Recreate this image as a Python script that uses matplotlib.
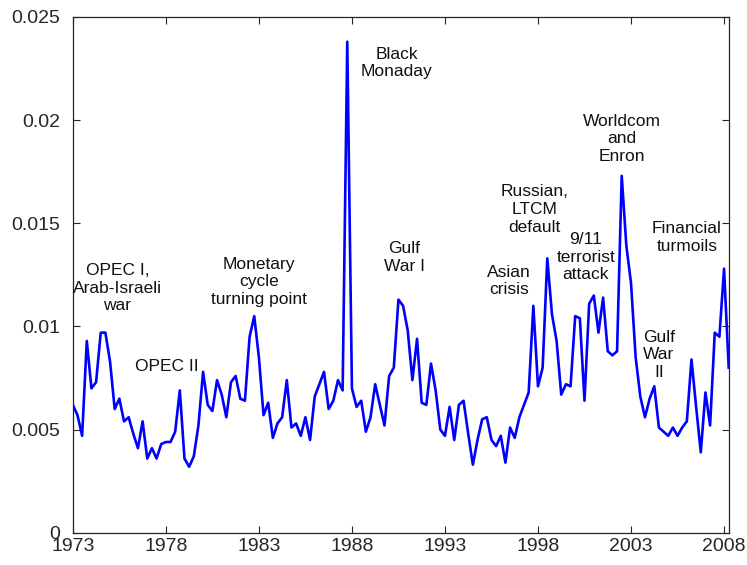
import numpy as np
import matplotlib
matplotlib.use('Agg')
import matplotlib.pyplot as plt

plt.rcParams['font.family'] = ['Liberation Sans', 'DejaVu Sans']

# quarterly volatility, 1973Q1 .. 2008Q2
vol = [0.0062, 0.0057, 0.0047, 0.0093, 0.0070, 0.0073, 0.0097, 0.0097, 0.0083, 0.0060,
       0.0065, 0.0054, 0.0056, 0.0048, 0.0041, 0.0054, 0.0036, 0.0041, 0.0036, 0.0043,
       0.0044, 0.0044, 0.0049, 0.0069, 0.0036, 0.0032, 0.0037, 0.0052, 0.0078, 0.0062,
       0.0059, 0.0074, 0.0067, 0.0056, 0.0073, 0.0076, 0.0065, 0.0064, 0.0095, 0.0105,
       0.0085, 0.0057, 0.0063, 0.0046, 0.0053, 0.0056, 0.0074, 0.0051, 0.0053, 0.0047,
       0.0056, 0.0045, 0.0066, 0.0072, 0.0078, 0.0060, 0.0064, 0.0074, 0.0069, 0.0238,
       0.0070, 0.0061, 0.0064, 0.0049, 0.0056, 0.0072, 0.0062, 0.0052, 0.0076, 0.0080,
       0.0113, 0.0110, 0.0098, 0.0074, 0.0094, 0.0063, 0.0062, 0.0082, 0.0069, 0.0050,
       0.0047, 0.0061, 0.0045, 0.0062, 0.0064, 0.0048, 0.0033, 0.0045, 0.0055, 0.0056,
       0.0045, 0.0042, 0.0047, 0.0034, 0.0051, 0.0046, 0.0056, 0.0062, 0.0068, 0.0110,
       0.0071, 0.0080, 0.0133, 0.0106, 0.0093, 0.0067, 0.0072, 0.0071, 0.0105, 0.0104,
       0.0064, 0.0111, 0.0115, 0.0097, 0.0114, 0.0088, 0.0086, 0.0088, 0.0173, 0.0139,
       0.0121, 0.0085, 0.0066, 0.0056, 0.0065, 0.0071, 0.0051, 0.0049, 0.0047, 0.0051,
       0.0047, 0.0051, 0.0054, 0.0084, 0.0061, 0.0039, 0.0068, 0.0052, 0.0097, 0.0095,
       0.0128, 0.0080]
start_year = 1973

# event labels: (text, x in years, y)
events = [
    ('OPEC I,\nArab-Israeli\nwar', 1975.4, 0.01186),
    ('OPEC II', 1978.05, 0.00805),
    ('Monetary\ncycle\nturning point', 1983.0, 0.01216),
    ('Black\nMonaday', 1990.4, 0.02277),
    ('Gulf\nWar I', 1990.8, 0.01334),
    ('Asian\ncrisis', 1996.45, 0.0122),
    ('Russian,\nLTCM\ndefault', 1997.8, 0.01567),
    ('9/11\nterrorist\nattack', 2000.57, 0.01336),
    ('Worldcom\nand\nEnron', 2002.5, 0.0191),
    ('Gulf\nWar\nII', 2004.5, 0.00862),
    ('Financial\nturmoils', 2006.0, 0.01432),
]

xticks = [1973, 1978, 1983, 1988, 1993, 1998, 2003, 2008]
yticks = [0, 0.005, 0.01, 0.015, 0.02, 0.025]
ylabels = ['0', '0.005', '0.01', '0.015', '0.02', '0.025']

t = start_year + np.arange(len(vol)) / 4.0

fig = plt.figure(figsize=(7.47, 5.65), dpi=100)
ax = fig.add_axes([0.0975, 0.057, 0.878, 0.913])
ax.plot(t, vol, color=(0, 0, 1), linewidth=1.9)

for txt, x, y in events:
    ax.text(x, y, txt, ha='center', va='center', fontsize=12.5,
            linespacing=1.22, color='#111111')

ax.set_xlim(1973, 2008.25)
ax.set_ylim(0, 0.025)
ax.set_xticks(xticks)
ax.set_yticks(yticks)
ax.set_yticklabels(ylabels)
ax.tick_params(direction='in', length=5, width=0.8, labelsize=14,
               top=True, right=True, colors='#262626', labelcolor='#262626')
ax.tick_params(axis='x', pad=4)
ax.tick_params(axis='y', pad=9)
for sp in ax.spines.values():
    sp.set_linewidth(0.9)
    sp.set_color('#262626')

fig.savefig('out.png', dpi=100)
